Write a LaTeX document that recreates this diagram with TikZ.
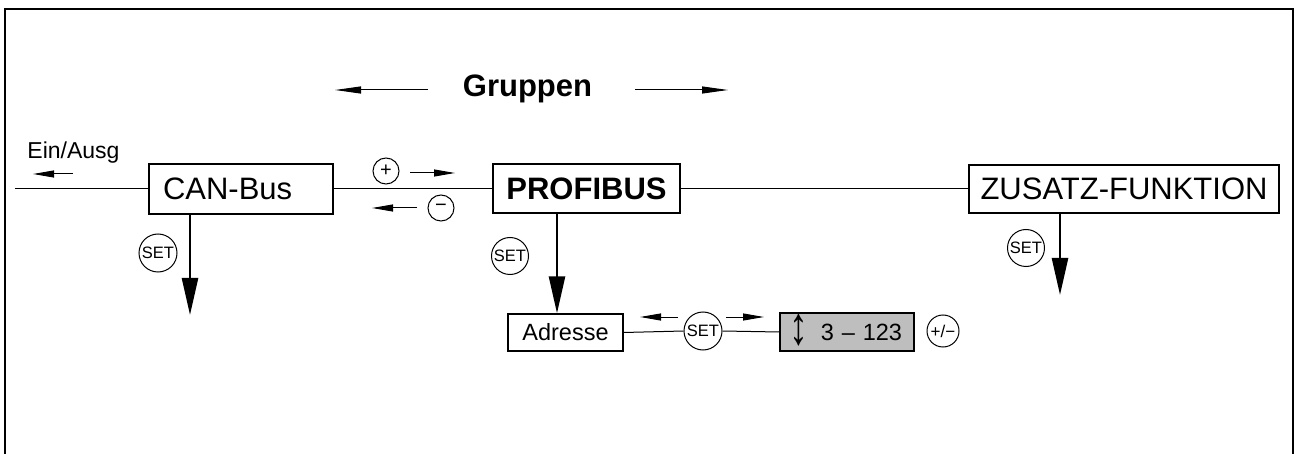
\documentclass[tikz,border=0pt]{standalone}
\usepackage{fontspec}
\setmainfont{Liberation Sans}
\usetikzlibrary{arrows.meta}
\definecolor{boxgray}{RGB}{190,190,190}
\tikzset{
  mainbox/.style={draw, line width=2pt, inner sep=0pt, font=\fontsize{31}{36}\selectfont},
  subbox/.style={draw, line width=1.3pt, inner sep=0pt, font=\fontsize{23.5}{28}\selectfont},
  keycirc/.style={draw, circle, line width=1pt, inner sep=0pt, font=\fontsize{16.5}{18}\selectfont},
  pmcirc/.style={draw, circle, line width=1pt, inner sep=0pt, minimum size=26pt, font=\fontsize{20}{22}\selectfont},
  busline/.style={line width=1pt},
  bigarrow/.style={line width=2.5pt, -{Triangle[length=37pt,width=16pt]}},
  smallarrow/.style={line width=1pt, -{Triangle[length=26pt,width=7pt]}},
  tinyarrow/.style={line width=1pt, -{Triangle[length=21pt,width=7pt]}},
}
\begin{document}
\begin{tikzpicture}[x=1pt,y=-1pt]
\useasboundingbox (0,0) rectangle (1298,454);
% frame
\draw[line width=2pt] (5,454) -- (5,9) -- (1293,9) -- (1293,454);

% title
\node[font=\bfseries\fontsize{31}{36}\selectfont, anchor=base, inner sep=0pt] (gruppen) at (527.5,97) {Gruppen};
\coordinate (gl0) at (428,90); \coordinate (gl1) at (335,90);
\coordinate (gr0) at (635,90); \coordinate (gr1) at (728,90);
\draw[smallarrow] (gl0) -- (gl1);
\draw[smallarrow] (gr0) -- (gr1);

% main boxes
\node[mainbox, minimum height=50pt, text width=156pt, inner xsep=14pt, align=left] (can) at (241,189) {CAN-Bus};
\node[mainbox, minimum width=187pt, minimum height=49pt, font=\bfseries\fontsize{31}{36}\selectfont] (prof) at (586.5,189) {PROFIBUS};
\node[mainbox, minimum width=310pt, minimum height=48pt] (zus) at (1124,189) {ZUSATZ-FUNKTION};

% bus line
\coordinate (busstart) at (15,189);
\draw[busline] (busstart) -- (can.west);
\draw[busline] (can.east) -- (prof.west);
\draw[busline] (prof.east) -- (zus.west);

% Ein/Ausg
\node[font=\fontsize{23}{27}\selectfont, anchor=base, inner sep=0pt] (einausg) at (73.5,159) {Ein/Ausg};
\coordinate (ea0) at (73,174); \coordinate (ea1) at (33,174);
\draw[tinyarrow] (ea0) -- (ea1);

% plus / minus
\node[pmcirc] (plus) at (386,171) {+};
\node[pmcirc] (minus) at (441,208) {−};
\coordinate (pa0) at (410,173); \coordinate (pa1) at (455,173);
\coordinate (ma0) at (417,208); \coordinate (ma1) at (372,208);
\draw[tinyarrow] (pa0) -- (pa1);
\draw[tinyarrow] (ma0) -- (ma1);

% SET keys and down arrows
\node[keycirc, minimum size=38pt] (setcan) at (158,253) {SET};
\coordinate (canend) at (190,315);
\draw[bigarrow] (canend |- can.south) -- (canend);

\node[keycirc, minimum size=37pt] (setprof) at (510,256) {SET};
\node[subbox, minimum width=115pt, minimum height=37pt] (adr) at (565.5,332.5) {Adresse};
\coordinate (profx) at (557,0);
\draw[bigarrow] (profx |- prof.south) -- (profx |- adr.north);

\node[keycirc, minimum size=37pt] (setzus) at (1026,248) {SET};
\coordinate (zusend) at (1060,295);
\draw[bigarrow] (zusend |- zus.south) -- (zusend);

% address row
\node[keycirc, minimum size=38pt] (setadr) at (703,331) {SET};
\node[subbox, fill=boxgray, minimum height=38pt, text width=110pt, inner xsep=12pt, align=right] (range) at (847,332) {3 – 123};
\node[inner sep=0pt, font=\fontsize{23.5}{28}\selectfont] (updown) at (799,330) {\scalebox{1.6}[2.3]{↕}};
\node[keycirc, minimum size=32pt, font=\fontsize{17}{19}\selectfont] (pm) at (943,331) {+/−};
\draw[busline] (adr.east) -- (setadr.west);
\draw[busline] (setadr.east) -- (range.west);
\coordinate (aa0) at (678,317); \coordinate (aa1) at (640,317);
\coordinate (ab0) at (726,317); \coordinate (ab1) at (764,317);
\draw[tinyarrow] (aa0) -- (aa1);
\draw[tinyarrow] (ab0) -- (ab1);
\end{tikzpicture}
\end{document}
